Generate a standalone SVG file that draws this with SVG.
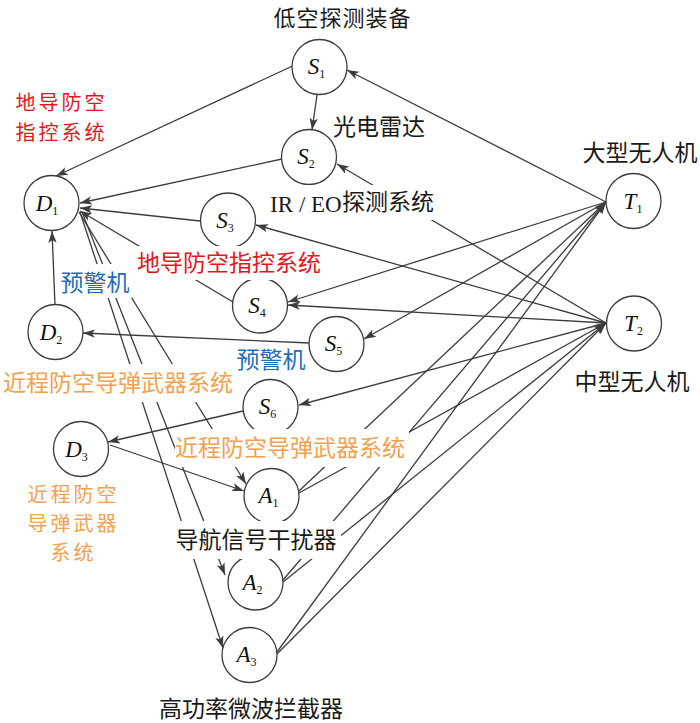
<svg xmlns="http://www.w3.org/2000/svg" width="700" height="723" viewBox="0 0 700 723">
<style>
.e{stroke:#3c3c3c;stroke-width:1.3;fill:none;marker-end:url(#ah)}
.n{fill:#fff;stroke:#3c3c3c;stroke-width:1.3}
.nl{font-family:"Liberation Serif",serif;font-style:italic;font-size:23px;fill:#111;text-anchor:middle}
.sb{font-style:normal;font-size:12px}
.t{font-family:"Noto Sans CJK SC",sans-serif;font-size:23px;text-anchor:middle}
.m{font-size:20px;letter-spacing:3px}
.k{fill:#1a1a1a}
.r{fill:#e8141c}
.b{fill:#1f6cba}
.o{fill:#f4a04c}
.bg{fill:#fff}
.lt{font-family:"Liberation Serif",serif;font-size:23px;fill:#1a1a1a}
</style>
<defs>
<marker id="ah" markerWidth="13" markerHeight="10" refX="12" refY="5" orient="auto" markerUnits="userSpaceOnUse">
<path d="M0,0.8 L12,5 L0,9.2 L3,5 Z" fill="#3c3c3c"/>
</marker>
</defs>
<g id="connectors">
<line class="e" x1="292.5" y1="66" x2="56" y2="176"/>
<line class="e" x1="317" y1="95" x2="312" y2="130"/>
<line class="e" x1="282" y1="159" x2="80" y2="203"/>
<line class="e" x1="200" y1="221" x2="80" y2="208"/>
<line class="e" x1="233" y1="302" x2="80" y2="211"/>
<line class="e" x1="79" y1="212" x2="246" y2="484"/>
<line class="e" x1="82" y1="212" x2="225" y2="575"/>
<line class="e" x1="80" y1="212" x2="223" y2="648"/>
<line class="e" x1="55" y1="305" x2="52" y2="231"/>
<line class="e" x1="310" y1="343" x2="83" y2="333"/>
<line class="e" x1="243" y1="411" x2="108" y2="442"/>
<line class="e" x1="110" y1="445" x2="244" y2="491"/>
<line class="e" x1="606" y1="202" x2="347" y2="70"/>
<line class="e" x1="606" y1="323" x2="337" y2="164"/>
<line class="e" x1="606" y1="323" x2="256" y2="225"/>
<line class="e" x1="606" y1="202" x2="288" y2="302"/>
<line class="e" x1="606" y1="323" x2="288" y2="305"/>
<line class="e" x1="606" y1="202" x2="364" y2="339"/>
<line class="e" x1="606" y1="323" x2="299" y2="405"/>
<line class="e" x1="299" y1="491" x2="606" y2="202"/>
<line class="e" x1="299" y1="493" x2="606" y2="323"/>
<line class="e" x1="283" y1="580" x2="606" y2="202"/>
<line class="e" x1="283" y1="582" x2="606" y2="323"/>
<line class="e" x1="277" y1="652" x2="606" y2="202"/>
<line class="e" x1="277" y1="654" x2="606" y2="323"/>
</g>
<g id="S1"><circle class="n" cx="319.5" cy="67" r="27.5"/><text class="nl" x="316.5" y="74">S<tspan class="sb" dy="4">1</tspan></text></g>
<g id="S2"><circle class="n" cx="309" cy="157" r="27.5"/><text class="nl" x="306" y="164">S<tspan class="sb" dy="4">2</tspan></text></g>
<g id="S3"><circle class="n" cx="228" cy="220.5" r="27.5"/><text class="nl" x="225" y="227.5">S<tspan class="sb" dy="4">3</tspan></text></g>
<g id="S4"><circle class="n" cx="260" cy="305.5" r="27.5"/><text class="nl" x="257" y="312.5">S<tspan class="sb" dy="4">4</tspan></text></g>
<g id="S5"><circle class="n" cx="336.5" cy="344" r="27.5"/><text class="nl" x="333.5" y="351">S<tspan class="sb" dy="4">5</tspan></text></g>
<g id="S6"><circle class="n" cx="270.5" cy="407" r="27.5"/><text class="nl" x="267.5" y="414">S<tspan class="sb" dy="4">6</tspan></text></g>
<g id="D1"><circle class="n" cx="51.5" cy="203" r="27.5"/><text class="nl" x="47" y="211">D<tspan class="sb" dy="4">1</tspan></text></g>
<g id="D2"><circle class="n" cx="55.5" cy="332" r="27.5"/><text class="nl" x="51" y="340">D<tspan class="sb" dy="4">2</tspan></text></g>
<g id="D3"><circle class="n" cx="81" cy="449" r="27.5"/><text class="nl" x="76.5" y="457">D<tspan class="sb" dy="4">3</tspan></text></g>
<g id="T1"><circle class="n" cx="633.5" cy="201" r="27.5"/><text class="nl" x="633" y="208.5">T<tspan class="sb" dy="4">1</tspan></text></g>
<g id="T2"><circle class="n" cx="634" cy="323.5" r="27.5"/><text class="nl" x="633.5" y="331">T<tspan class="sb" dy="4">2</tspan></text></g>
<g id="A1"><circle class="n" cx="271.5" cy="496" r="27.5"/><text class="nl" x="268.5" y="503">A<tspan class="sb" dy="4">1</tspan></text></g>
<g id="A2"><circle class="n" cx="255.5" cy="582.5" r="27.5"/><text class="nl" x="252.5" y="589.5">A<tspan class="sb" dy="4">2</tspan></text></g>
<g id="A3"><circle class="n" cx="249.5" cy="655" r="27.5"/><text class="nl" x="246.5" y="662">A<tspan class="sb" dy="4">3</tspan></text></g>
<g id="labels">
<text class="t k" x="342.5" y="26" style="font-size:22px;letter-spacing:1px">低空探测装备</text>
<text class="t k" x="379" y="135">光电雷达</text>
<rect class="bg" x="267" y="185" width="168" height="35"/>
<text class="lt" y="212"><tspan x="270">IR</tspan><tspan x="299">/</tspan><tspan x="311">EO</tspan></text>
<text class="t k" x="388" y="210">探测系统</text>
<text class="t k" x="640" y="161">大型无人机</text>
<text class="t k" x="632" y="390">中型无人机</text>
<text class="t r m" x="61.5" y="110">地导防空</text>
<text class="t r m" x="61.5" y="140">指控系统</text>
<rect class="bg" x="134" y="246" width="190" height="34"/>
<text class="t r" x="229" y="271">地导防空指控系统</text>
<rect class="bg" x="58" y="264" width="74" height="34"/>
<text class="t b" x="95" y="291">预警机</text>
<text class="t b" x="271" y="368">预警机</text>
<rect class="bg" x="0" y="364" width="238" height="38"/>
<text class="t o" x="118" y="391">近程防空导弹武器系统</text>
<rect class="bg" x="175" y="429" width="234" height="38"/>
<text class="t o" x="290" y="456">近程防空导弹武器系统</text>
<text class="t o m" x="73.5" y="502">近程防空</text>
<text class="t o m" x="73.5" y="531">导弹武器</text>
<text class="t o m" x="73.5" y="560">系统</text>
<rect class="bg" x="171" y="521" width="170" height="38"/>
<text class="t k" x="256" y="548">导航信号干扰器</text>
<text class="t k" x="251" y="717">高功率微波拦截器</text>
</g>
</svg>
